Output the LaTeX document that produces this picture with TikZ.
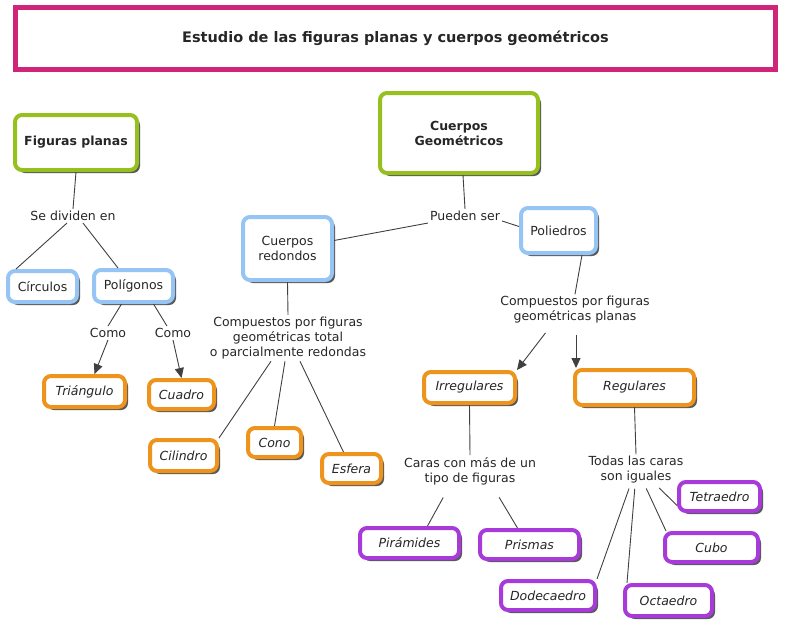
\documentclass[tikz,border=0pt]{standalone}
\usepackage{fontspec}
\setmainfont{DejaVu Sans}
\usepackage{xcolor}
\usetikzlibrary{shadows, arrows.meta}

\newcommand{\letra}{\fontsize{12.5}{15}\selectfont}

\begin{document}
\begin{tikzpicture}[x=1pt, y=-1pt,
  caja/.style={draw, line width=4pt, rounded corners=7pt, fill=white, inner sep=0pt,
    align=center, text=black!85, font=\letra,
    drop shadow={shadow xshift=3pt, shadow yshift=-3pt, fill=black!65, opacity=1}},
  verde/.style={caja, draw=verdeC, font=\letra\bfseries},
  azul/.style={caja, draw=azulC},
  naranja/.style={caja, draw=naranjaC, font=\letra\itshape},
  morado/.style={caja, draw=moradoC, font=\letra\itshape},
  enlace/.style={align=center, inner sep=2pt, text=black!85, font=\letra},
  linea/.style={draw=black!75, line width=0.9pt},
  flecha/.style={linea, -{Triangle[length=10pt,width=9pt]}}
]

% Colores de cada nivel
\definecolor{verdeC}{RGB}{150,192,30}
\definecolor{azulC}{RGB}{150,196,245}
\definecolor{naranjaC}{RGB}{238,148,28}
\definecolor{moradoC}{RGB}{168,58,218}
\definecolor{tituloC}{RGB}{208,36,120}

\useasboundingbox (0,0) rectangle (785,627);

% Titulo
\node[draw=tituloC, line width=5pt, minimum width=760pt, minimum height=62pt,
  text=black!85, font=\fontsize{14.5}{17}\selectfont\bfseries] (titulo) at (395.5,38.5)
  {Estudio de las figuras planas y cuerpos geométricos};

% Figuras planas
\node[verde, minimum width=122pt, minimum height=55pt] (fp) at (76,142.5) {Figuras planas};
\node[enlace] (sdiv) at (73,216) {Se dividen en};
\node[azul, minimum width=69pt, minimum height=31pt] (circ) at (42.5,286.5) {Círculos};
\node[azul, minimum width=79pt, minimum height=32pt] (poli) at (133.5,286) {Polígonos};
\node[enlace] (como1) at (108,333) {Como};
\node[enlace] (como2) at (173,333) {Como};
\node[naranja, minimum width=81pt, minimum height=31pt] (tri) at (84.5,391.5) {Triángulo};
\node[naranja, minimum width=65pt, minimum height=29pt] (cua) at (181.5,394.5) {Cuadro};

\draw[linea] (fp.south) -- (sdiv.north);
\draw[linea] ([xshift=-6pt]sdiv.south) -- ([xshift=10pt]circ.north west);
\draw[linea] ([xshift=10pt]sdiv.south) -- ([xshift=26pt]poli.north west);
\draw[linea] ([xshift=-12pt]poli.south) -- (como1.north);
\draw[linea] ([xshift=20pt]poli.south) -- ([xshift=-6pt]como2.north);
\draw[flecha] (como1.south) -- ([xshift=10pt]tri.north);
\draw[flecha] (como2.south) -- (cua.north);

% Cuerpos geometricos
\node[verde, minimum width=158pt, minimum height=80pt] (cg) at (459,133) {Cuerpos\\Geométricos};
\node[enlace] (pue) at (465,216) {Pueden ser};
\node[azul, minimum width=89pt, minimum height=63pt] (cr) at (287.5,248.5) {Cuerpos\\redondos};
\node[azul, minimum width=75pt, minimum height=45pt] (pol) at (558.5,230.5) {Poliedros};

\draw[linea] ([xshift=4pt]cg.south) -- (pue.north);
\draw[linea] (pue.south west) -- ([yshift=8pt]cr.east);
\draw[linea] ([yshift=-5pt]pue.east) -- ([yshift=4pt]pol.west);

% Cuerpos redondos
\node[enlace] (comp1) at (288,338) {Compuestos por figuras\\geométricas total\\o parcialmente redondas};
\node[naranja, minimum width=67pt, minimum height=31pt] (cil) at (183.5,455.5) {Cilindro};
\node[naranja, minimum width=53pt, minimum height=29pt] (cono) at (274.5,442.5) {Cono};
\node[naranja, minimum width=59pt, minimum height=29pt] (esf) at (351.5,468.5) {Esfera};

\draw[linea] (cr.south) -- (comp1.north);
\draw[linea] ([xshift=-17pt]comp1.south) -- (cil.north east);
\draw[linea] ([xshift=-3pt]comp1.south) -- (cono.north);
\draw[linea] ([xshift=12pt]comp1.south) -- ([xshift=-8pt]esf.north);

% Poliedros
\node[enlace] (comp2) at (575,310) {Compuestos por figuras\\geométricas planas};
\node[naranja, minimum width=91pt, minimum height=31pt] (irr) at (469.5,387.5) {Irregulares};
\node[naranja, minimum width=119pt, minimum height=35pt] (reg) at (634.5,387.5) {Regulares};

\draw[linea] ([xshift=-16pt]pol.south east) -- (comp2.north);
\draw[flecha, shorten <=9pt] ([xshift=-24pt]comp2.south) -- (irr.north east);
\draw[flecha, shorten <=9pt] ([xshift=1pt]comp2.south) -- ([xshift=3pt]reg.north west);

% Irregulares
\node[enlace] (caras) at (470,471) {Caras con más de un\\tipo de figuras};
\node[morado, minimum width=99pt, minimum height=30pt] (pir) at (409.5,543) {Pirámides};
\node[morado, minimum width=99pt, minimum height=29pt] (pri) at (529.5,544.5) {Prismas};

\draw[linea] (irr.south) -- (caras.north);
\draw[linea, shorten <=12pt] ([xshift=-21pt]caras.south) -- ([xshift=18pt]pir.north);
\draw[linea, shorten <=12pt] ([xshift=23pt]caras.south) -- ([xshift=-12pt]pri.north);

% Regulares
\node[enlace] (todas) at (636,470) {Todas las caras\\son iguales};
\node[morado, minimum width=81pt, minimum height=29pt] (tet) at (719.5,496.5) {Tetraedro};
\node[morado, minimum width=93pt, minimum height=29pt] (cubo) at (711.5,547.5) {Cubo};
\node[morado, minimum width=94pt, minimum height=29pt] (dod) at (548,595.5) {Dodecaedro};
\node[morado, minimum width=87pt, minimum height=31pt] (oct) at (668.5,600.5) {Octaedro};

\draw[linea] (reg.south) -- (todas.north);
\draw[linea, shorten <=3pt] ([xshift=-6pt]todas.south) -- (dod.north east);
\draw[linea, shorten <=3pt] ([xshift=-1pt]todas.south) -- ([xshift=4pt]oct.north west);
\draw[linea, shorten <=3pt] ([xshift=9pt]todas.south) -- ([xshift=3pt]cubo.north west);
\draw[linea, shorten <=3pt] ([xshift=21pt]todas.south) -- ([yshift=-9pt]tet.west);

\end{tikzpicture}
\end{document}
